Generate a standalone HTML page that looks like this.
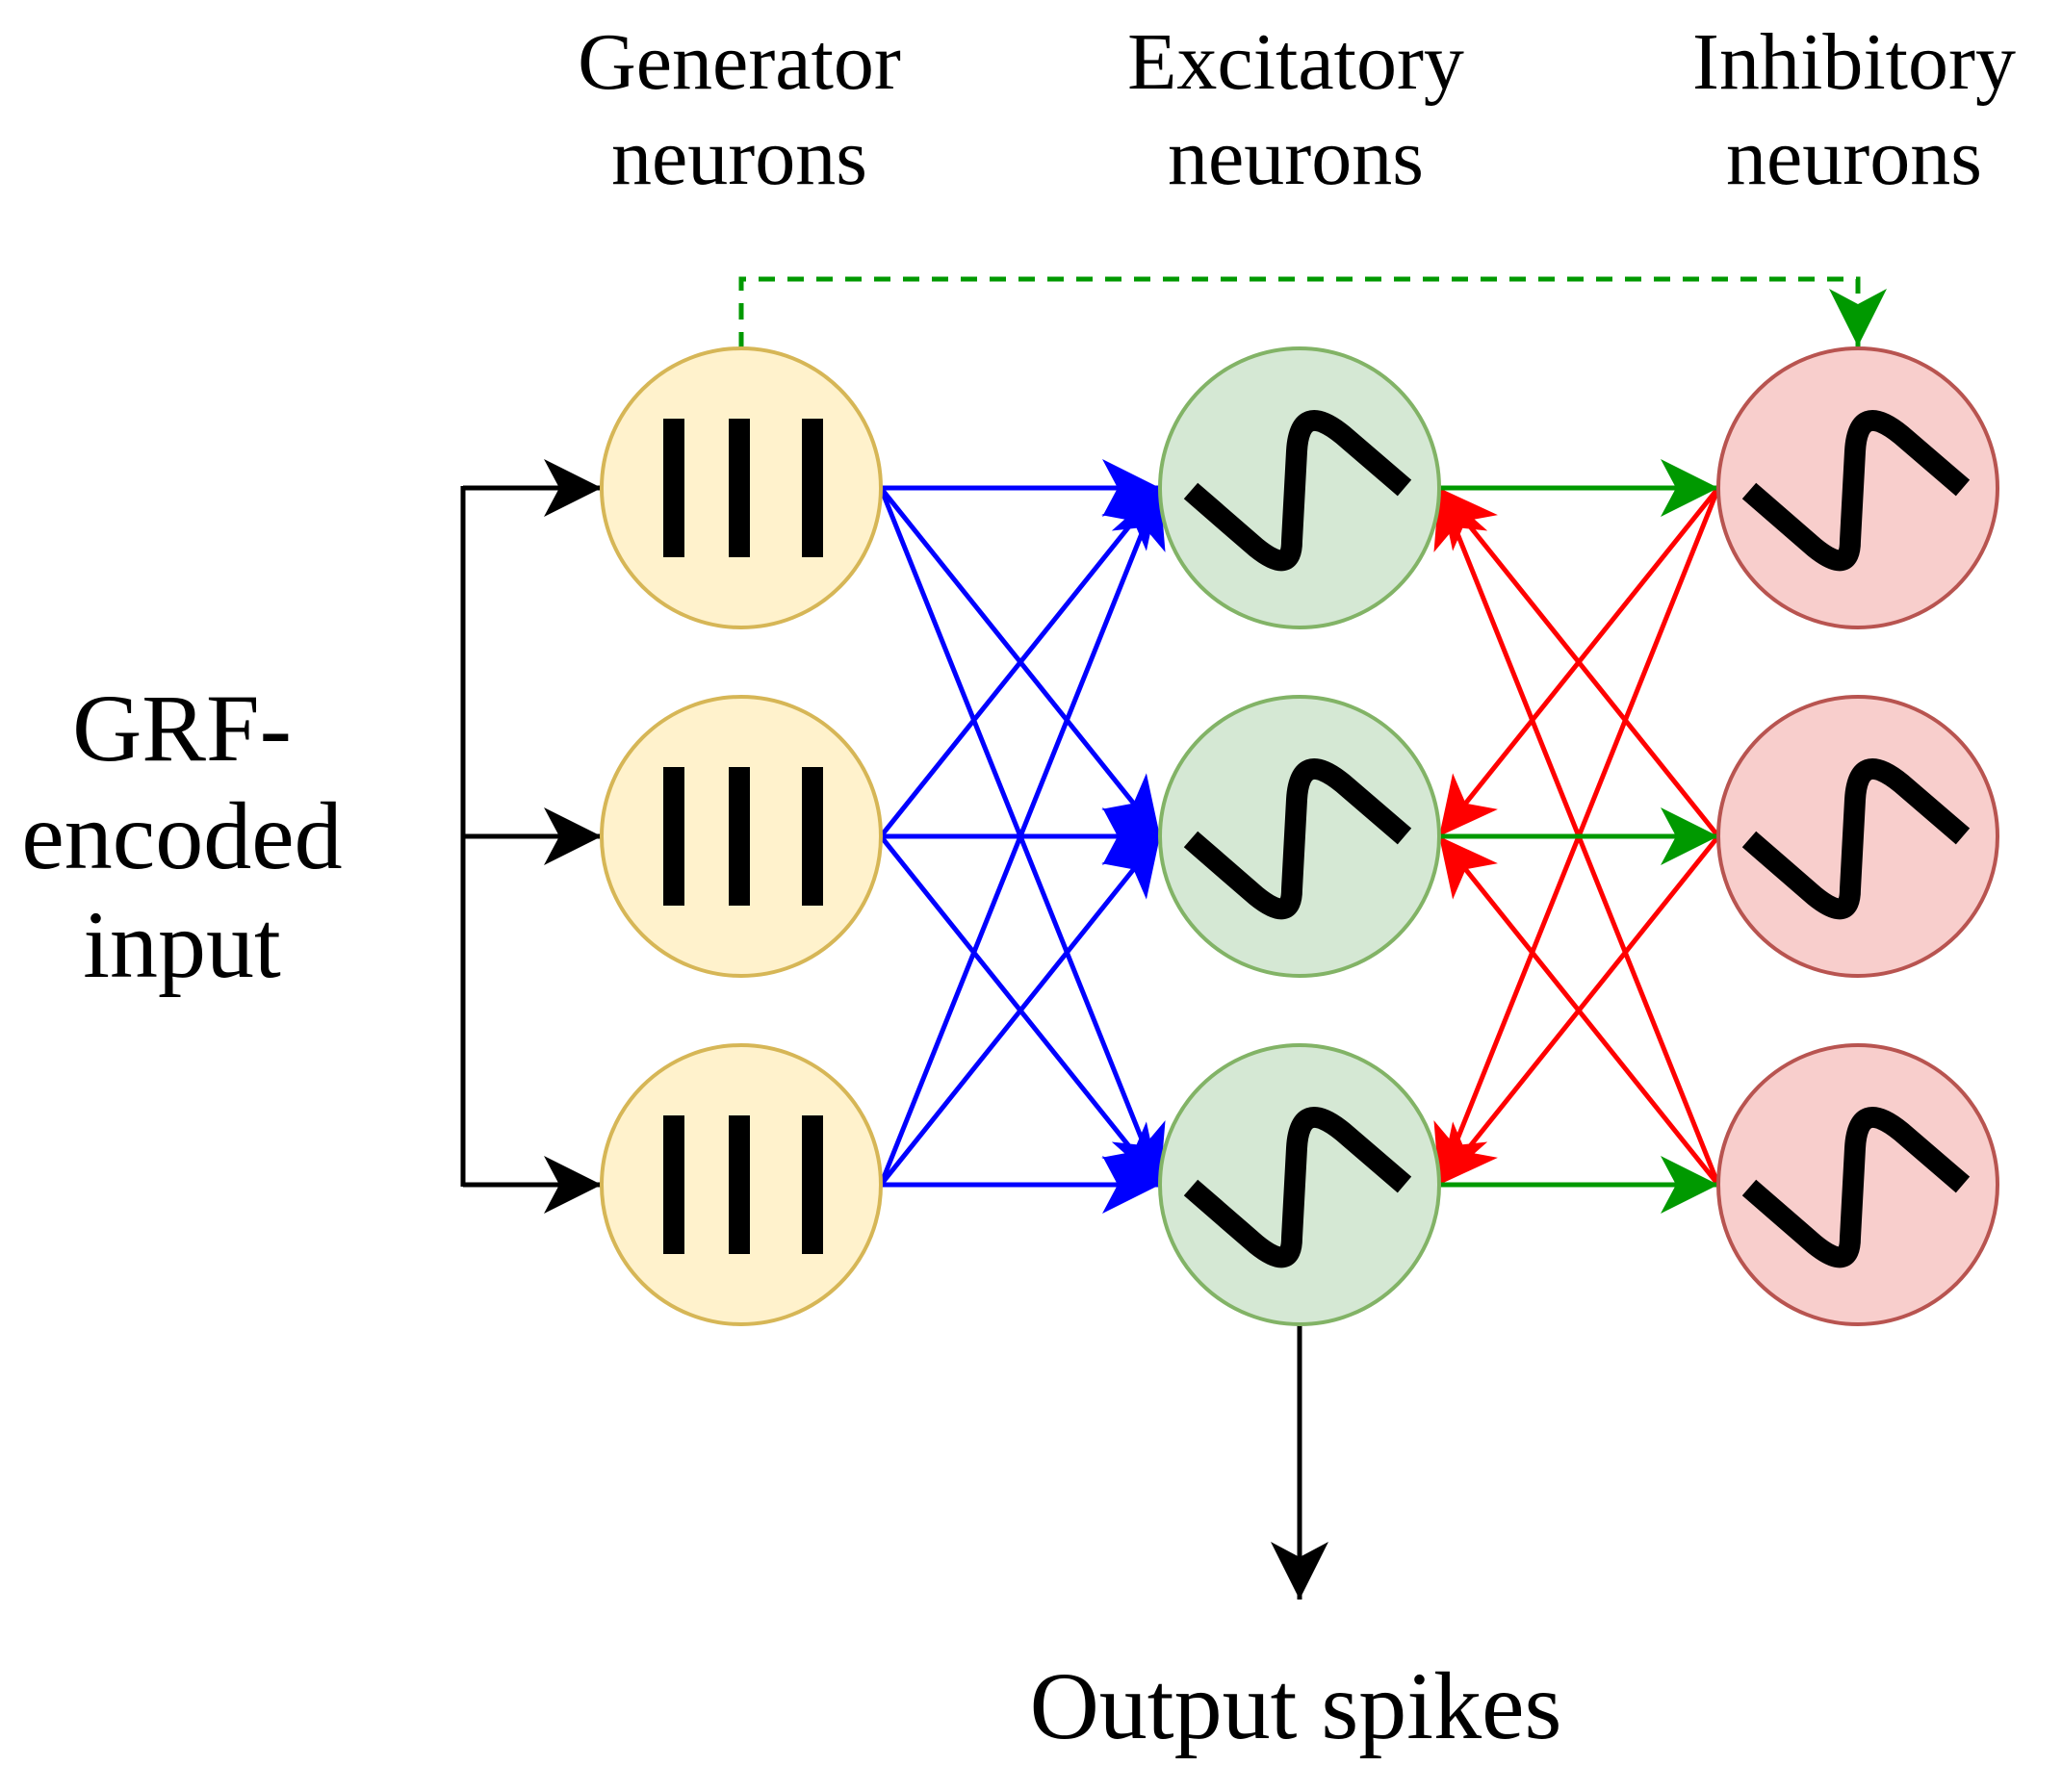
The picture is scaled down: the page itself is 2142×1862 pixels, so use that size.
<!DOCTYPE html>
<html><head><style>
html,body{margin:0;padding:0;background:#fff;}
svg{display:block;}
text{font-family:"Liberation Serif",serif;fill:#000;}
</style></head><body>
<svg width="2142" height="1862" viewBox="0 0 2142 1862" xmlns="http://www.w3.org/2000/svg">
<defs>
<marker id="ak" markerUnits="userSpaceOnUse" markerWidth="80" markerHeight="80" refX="62" refY="34" orient="auto" viewBox="0 0 80 80"><path d="M62,34 L2,4 L18,34 L2,64 Z" fill="#000"/></marker>
<marker id="ab" markerUnits="userSpaceOnUse" markerWidth="80" markerHeight="80" refX="62" refY="34" orient="auto" viewBox="0 0 80 80"><path d="M62,34 L2,4 L18,34 L2,64 Z" fill="#0000ff"/></marker>
<marker id="ar" markerUnits="userSpaceOnUse" markerWidth="80" markerHeight="80" refX="62" refY="34" orient="auto" viewBox="0 0 80 80"><path d="M62,34 L2,4 L18,34 L2,64 Z" fill="#ff0000"/></marker>
<marker id="ag" markerUnits="userSpaceOnUse" markerWidth="80" markerHeight="80" refX="62" refY="34" orient="auto" viewBox="0 0 80 80"><path d="M62,34 L2,4 L18,34 L2,64 Z" fill="#009900"/></marker>
</defs>

<g font-size="84" text-anchor="middle">
<text x="768" y="92">Generator</text><text x="768" y="191">neurons</text>
<text x="1346" y="92">Excitatory</text><text x="1346" y="191">neurons</text>
<text x="1926" y="92">Inhibitory</text><text x="1926" y="191">neurons</text>
</g>
<g font-size="100" text-anchor="middle">
<text x="189" y="790">GRF-</text>
<text x="189" y="902">encoded</text>
<text x="189" y="1015">input</text>
<text x="1346" y="1806">Output spikes</text>
</g>

<path d="M770,362 L770,290 L1930,290 L1930,360" fill="none" stroke="#009900" stroke-width="5" stroke-dasharray="17,13" marker-end="url(#ag)"/>

<g stroke="#000" stroke-width="5" fill="none">
<path d="M481,505 L481,1233"/>
<path d="M481,507 L625,507" marker-end="url(#ak)"/>
<path d="M481,869 L625,869" marker-end="url(#ak)"/>
<path d="M481,1231 L625,1231" marker-end="url(#ak)"/>
<path d="M1350,1376 L1350,1662" marker-end="url(#ak)"/>
</g>

<g stroke="#0000ff" stroke-width="5" fill="none" marker-end="url(#ab)">
<path d="M915,507 L1205,507"/><path d="M915,507 L1205,869"/><path d="M915,507 L1205,1231"/>
<path d="M915,869 L1205,507"/><path d="M915,869 L1205,869"/><path d="M915,869 L1205,1231"/>
<path d="M915,1231 L1205,507"/><path d="M915,1231 L1205,869"/><path d="M915,1231 L1205,1231"/>
</g>
<g stroke="#ff0000" stroke-width="5" fill="none" marker-end="url(#ar)">
<path d="M1785,507 L1495,869"/><path d="M1785,507 L1495,1231"/>
<path d="M1785,869 L1495,507"/><path d="M1785,869 L1495,1231"/>
<path d="M1785,1231 L1495,507"/><path d="M1785,1231 L1495,869"/>
</g>
<g stroke="#009900" stroke-width="5" fill="none" marker-end="url(#ag)">
<path d="M1495,507 L1785,507"/><path d="M1495,869 L1785,869"/><path d="M1495,1231 L1785,1231"/>
</g>

<g stroke="#d6b656" stroke-width="4" fill="#fff2cc">
<circle cx="770" cy="507" r="145"/><circle cx="770" cy="869" r="145"/><circle cx="770" cy="1231" r="145"/>
</g>
<g fill="#000">
<rect x="689" y="435" width="22" height="144"/><rect x="757" y="435" width="22" height="144"/><rect x="833" y="435" width="22" height="144"/>
<rect x="689" y="797" width="22" height="144"/><rect x="757" y="797" width="22" height="144"/><rect x="833" y="797" width="22" height="144"/>
<rect x="689" y="1159" width="22" height="144"/><rect x="757" y="1159" width="22" height="144"/><rect x="833" y="1159" width="22" height="144"/>
</g>

<g stroke="#82b366" stroke-width="4" fill="#d5e8d4">
<circle cx="1350" cy="507" r="145"/><circle cx="1350" cy="869" r="145"/><circle cx="1350" cy="1231" r="145"/>
</g>
<g stroke="#b85450" stroke-width="4" fill="#f8cecc">
<circle cx="1930" cy="507" r="145"/><circle cx="1930" cy="869" r="145"/><circle cx="1930" cy="1231" r="145"/>
</g>

<g fill="none" stroke="#000" stroke-width="22" stroke-linejoin="round">
<path id="s" d="M-113,3 L-45,62 Q-8,92 -8,55 L-3,-38 Q0,-92 45,-55 L109,0" transform="translate(1350,507)"/>
<use href="#s" transform="translate(0,362)"/>
<use href="#s" transform="translate(0,724)"/>
<use href="#s" transform="translate(580,0)"/>
<use href="#s" transform="translate(580,362)"/>
<use href="#s" transform="translate(580,724)"/>
</g>
</svg>
</body></html>
